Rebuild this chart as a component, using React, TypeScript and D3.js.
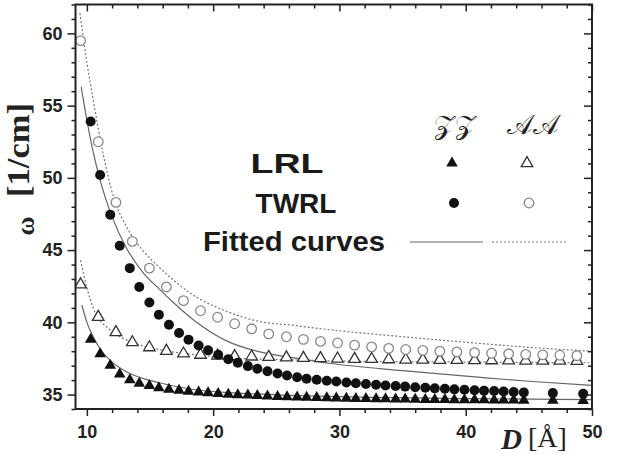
import React, { useEffect, useRef } from 'react';
import * as d3 from 'd3';

// ZZ ribbons: widths and frequencies
const zzD = [10.3, 11.05, 11.85, 12.6, 13.4, 14.15, 14.95, 15.7, 16.5, 17.3, 18.05, 18.85, 19.6, 20.4, 21.2, 21.95, 22.75, 23.5, 24.3, 25.1, 25.85, 26.65, 27.4, 28.2, 29.0, 29.75, 30.55, 31.3, 32.1, 32.9, 33.65, 34.45, 35.2, 36.0, 36.8, 37.55, 38.35, 39.1, 39.9, 40.7, 41.45, 42.25, 43.0, 43.8, 44.6, 46.9, 49.3];
const zzLRL = [38.9, 37.9, 37.1, 36.5, 36.1, 35.85, 35.7, 35.55, 35.45, 35.38, 35.3, 35.25, 35.2, 35.15, 35.1, 35.07, 35.04, 35.01, 34.98, 34.95, 34.93, 34.91, 34.89, 34.87, 34.85, 34.83, 34.82, 34.81, 34.8, 34.79, 34.78, 34.77, 34.76, 34.75, 34.74, 34.74, 34.73, 34.72, 34.72, 34.71, 34.71, 34.7, 34.7, 34.7, 34.69, 34.68, 34.67];
const zzTWRL = [53.9, 50.2, 47.45, 45.3, 43.75, 42.45, 41.37, 40.52, 39.83, 39.26, 38.8, 38.4, 38.06, 37.76, 37.45, 37.2, 36.97, 36.78, 36.61, 36.46, 36.32, 36.2, 36.1, 36.02, 35.95, 35.9, 35.84, 35.78, 35.73, 35.68, 35.63, 35.59, 35.55, 35.51, 35.47, 35.43, 35.4, 35.36, 35.33, 35.3, 35.27, 35.24, 35.21, 35.18, 35.15, 35.1, 35.05];

// AA ribbons
const aaD = [9.5, 10.9, 12.3, 13.6, 14.95, 16.3, 17.65, 19.0, 20.35, 21.7, 23.05, 24.4, 25.8, 27.15, 28.5, 29.85, 31.2, 32.55, 33.9, 35.25, 36.6, 37.95, 39.3, 40.7, 42.05, 43.4, 44.75, 46.1, 47.45, 48.8];
const aaLRL = [42.7, 40.45, 39.4, 38.7, 38.35, 38.1, 37.92, 37.83, 37.78, 37.74, 37.71, 37.68, 37.65, 37.62, 37.6, 37.57, 37.55, 37.54, 37.52, 37.5, 37.49, 37.48, 37.47, 37.46, 37.45, 37.44, 37.43, 37.42, 37.42, 37.41];
const aaTWRL = [59.5, 52.5, 48.3, 45.6, 43.75, 42.45, 41.5, 40.8, 40.35, 39.9, 39.55, 39.2, 39.0, 38.82, 38.68, 38.57, 38.42, 38.3, 38.2, 38.12, 38.06, 38.0, 37.95, 37.9, 37.86, 37.82, 37.78, 37.75, 37.72, 37.69];

// fitted curves
const fitZzTwrlD = [9.55, 10.0, 10.5, 11.0, 12.0, 13.1, 14.4, 15.8, 17.0, 18.4, 21.1, 23.7, 26.3, 29.3, 35.0, 41.0, 45.0, 50.0];
const fitZzTwrlW = [56.3, 54.0, 51.8, 50.0, 47.3, 45.2, 43.5, 42.25, 41.25, 40.2, 38.7, 37.95, 37.55, 37.15, 36.65, 36.2, 35.92, 35.64];
const fitZzLrlD = [9.6, 10.0, 10.5, 11.1, 11.8, 13.1, 14.5, 15.8, 18.4, 22.0, 26.0, 30.0, 40.0, 50.0];
const fitZzLrlW = [41.2, 40.0, 39.0, 38.1, 37.4, 36.6, 36.1, 35.8, 35.35, 35.1, 34.95, 34.85, 34.72, 34.65];
const fitAaTwrlD = [9.45, 10.0, 10.5, 11.3, 12.1, 13.15, 14.5, 15.8, 18.4, 21.1, 23.7, 26.3, 29.3, 34.8, 41.0, 45.0, 50.0];
const fitAaTwrlW = [61.4, 58.0, 55.4, 51.6, 48.7, 46.6, 44.9, 43.75, 41.9, 40.75, 40.05, 39.8, 39.48, 39.02, 38.55, 38.27, 38.0];
const fitAaLrlD = [9.5, 10.0, 10.5, 11.8, 13.1, 15.8, 18.4, 21.1, 26.3, 30.0, 40.0, 50.0];
const fitAaLrlW = [44.3, 42.4, 41.0, 39.5, 38.8, 38.1, 37.78, 37.55, 37.4, 37.32, 37.25, 37.2];

const xMajor = [10, 20, 30, 40, 50];
const xMinor = [12, 14, 16, 18, 22, 24, 26, 28, 32, 34, 36, 38, 42, 44, 46, 48];
const yMajor = [35, 40, 45, 50, 55, 60];
const yMinor = [34, 36, 37, 38, 39, 41, 42, 43, 44, 46, 47, 48, 49, 51, 52, 53, 54, 56, 57, 58, 59, 61, 62];

const W = 618, H = 455;
const margin = { top: 4.5, right: 26, bottom: 46, left: 75.5 };

const triPath = 'M0,-5.4L5.8,4.6L-5.8,4.6Z';
const sans = 'Liberation Sans, Arial, sans-serif';
const serif = 'Liberation Serif, Times New Roman, serif';

function App() {
  const ref = useRef(null);

  useEffect(() => {
    const svg = d3.select(ref.current);
    svg.selectAll('*').remove();

    const x = d3.scaleLinear().domain([9.1, 50]).range([margin.left, W - margin.right]);
    const y = d3.scaleLinear().domain([34, 62]).range([H - margin.bottom, margin.top]);
    const x0 = margin.left, x1 = W - margin.right, y0 = H - margin.bottom, y1 = margin.top;

    svg.append('clipPath').attr('id', 'plot-clip')
      .append('rect').attr('x', x0).attr('y', y1).attr('width', x1 - x0).attr('height', y0 - y1);

    // fitted curves
    const curves = [
      { d: fitZzTwrlD, w: fitZzTwrlW, dash: null },
      { d: fitZzLrlD, w: fitZzLrlW, dash: null },
      { d: fitAaTwrlD, w: fitAaTwrlW, dash: '2,2' },
      { d: fitAaLrlD, w: fitAaLrlW, dash: '2,2' },
    ];
    const cg = svg.append('g').attr('clip-path', 'url(#plot-clip)');
    curves.forEach(c => {
      const pts = c.d.map((d, i) => [x(d), y(c.w[i])] as [number, number]);
      cg.append('path')
        .attr('d', d3.line().curve(d3.curveMonotoneX)(pts))
        .attr('fill', 'none')
        .attr('stroke', c.dash ? '#777' : '#666')
        .attr('stroke-width', 1.2)
        .attr('stroke-dasharray', c.dash);
    });

    // markers
    const mg = svg.append('g').attr('clip-path', 'url(#plot-clip)');
    mg.selectAll('.aa-tri').data(aaD).join('path')
      .attr('transform', (d, i) => `translate(${x(d)},${y(aaLRL[i])})`)
      .attr('d', triPath).attr('fill', 'white').attr('stroke', '#333').attr('stroke-width', 1.3);
    mg.selectAll('.aa-circ').data(aaD).join('circle')
      .attr('cx', d => x(d)).attr('cy', (d, i) => y(aaTWRL[i])).attr('r', 4.8)
      .attr('fill', 'white').attr('stroke', '#888').attr('stroke-width', 1.3);
    mg.selectAll('.zz-circ').data(zzD).join('circle')
      .attr('cx', d => x(d)).attr('cy', (d, i) => y(zzTWRL[i])).attr('r', 5)
      .attr('fill', '#111');
    mg.selectAll('.zz-tri').data(zzD).join('path')
      .attr('transform', (d, i) => `translate(${x(d)},${y(zzLRL[i])})`)
      .attr('d', triPath).attr('fill', '#111');

    // axes
    const styleAxis = g => {
      g.select('.domain').remove();
      g.selectAll('line').attr('stroke', '#222').attr('stroke-width', 1.5);
      g.selectAll('text').attr('font-family', sans).attr('font-weight', 'bold')
        .attr('font-size', 18).attr('fill', '#222');
    };
    svg.append('g').attr('transform', `translate(0,${y0})`)
      .call(d3.axisBottom(x).tickValues(xMajor).tickSize(7).tickPadding(9).tickFormat(d3.format('d')))
      .call(styleAxis);
    svg.append('g').attr('transform', `translate(0,${y0})`)
      .call(d3.axisBottom(x).tickValues(xMinor).tickSize(4).tickFormat(() => ''))
      .call(styleAxis);
    svg.append('g').attr('transform', `translate(0,${y1})`)
      .call(d3.axisTop(x).tickValues(xMajor).tickSize(-7).tickFormat(() => ''))
      .call(styleAxis);
    svg.append('g').attr('transform', `translate(0,${y1})`)
      .call(d3.axisTop(x).tickValues(xMinor).tickSize(-4).tickFormat(() => ''))
      .call(styleAxis);
    svg.append('g').attr('transform', `translate(${x0},0)`)
      .call(d3.axisLeft(y).tickValues(yMajor).tickSize(8).tickPadding(5).tickFormat(d3.format('d')))
      .call(styleAxis);
    svg.append('g').attr('transform', `translate(${x0},0)`)
      .call(d3.axisLeft(y).tickValues(yMinor).tickSize(4).tickFormat(() => ''))
      .call(styleAxis);
    svg.append('g').attr('transform', `translate(${x1},0)`)
      .call(d3.axisRight(y).tickValues(yMajor).tickSize(-8).tickFormat(() => ''))
      .call(styleAxis);
    svg.append('g').attr('transform', `translate(${x1},0)`)
      .call(d3.axisRight(y).tickValues(yMinor).tickSize(-4).tickFormat(() => ''))
      .call(styleAxis);

    svg.append('rect').attr('x', x0).attr('y', y1).attr('width', x1 - x0).attr('height', y0 - y1)
      .attr('fill', 'none').attr('stroke', '#222').attr('stroke-width', 2);

    // axis titles
    svg.append('text').attr('transform', 'translate(34,226) rotate(-90)')
      .attr('text-anchor', 'middle').attr('font-family', serif).attr('font-weight', 'bold')
      .attr('font-size', 26).attr('fill', '#222').text('ω');
    svg.append('text').attr('transform', 'translate(29,150) rotate(-90)')
      .attr('text-anchor', 'middle').attr('font-family', serif).attr('font-weight', 'bold')
      .attr('font-size', 31).attr('fill', '#222')
      .attr('textLength', 94).attr('lengthAdjust', 'spacingAndGlyphs').text('[1/cm]');
    svg.append('text').attr('x', 501).attr('y', 449)
      .attr('font-family', serif).attr('font-weight', 'bold').attr('font-style', 'italic')
      .attr('font-size', 29).attr('fill', '#222').text('D');
    svg.append('text').attr('x', 528).attr('y', 447)
      .attr('font-family', serif).attr('font-size', 28).attr('fill', '#222').text('[Å]');

    // legend
    const lg = svg.append('g');
    lg.append('text').attr('x', 455).attr('y', 134).attr('text-anchor', 'middle')
      .attr('font-family', 'DejaVu Serif, serif')
      .attr('font-size', 27).attr('fill', '#222').text('\u{1D4B5}\u{1D4B5}');
    lg.append('text').attr('x', 533).attr('y', 134).attr('text-anchor', 'middle')
      .attr('font-family', 'DejaVu Serif, serif')
      .attr('font-size', 27).attr('fill', '#222').text('\u{1D49C}\u{1D49C}');
    const labels = [
      { t: 'LRL', x: 287, y: 173, len: 73 },
      { t: 'TWRL', x: 296, y: 213, len: null },
      { t: 'Fitted curves', x: 294, y: 251, len: 182 },
    ];
    labels.forEach(l => {
      const t = lg.append('text').attr('x', l.x).attr('y', l.y).attr('text-anchor', 'middle')
        .attr('font-family', sans).attr('font-weight', 'bold').attr('font-size', 28)
        .attr('fill', '#1a1a1a').text(l.t);
      if (l.len) t.attr('textLength', l.len).attr('lengthAdjust', 'spacingAndGlyphs');
    });
    lg.append('path').attr('transform', 'translate(452,162)').attr('d', triPath).attr('fill', '#111');
    lg.append('path').attr('transform', 'translate(527,162)').attr('d', triPath)
      .attr('fill', 'white').attr('stroke', '#333').attr('stroke-width', 1.3);
    lg.append('circle').attr('cx', 454).attr('cy', 203).attr('r', 5).attr('fill', '#111');
    lg.append('circle').attr('cx', 529).attr('cy', 203).attr('r', 4.8)
      .attr('fill', 'white').attr('stroke', '#888').attr('stroke-width', 1.3);
    lg.append('line').attr('x1', 410).attr('x2', 483).attr('y1', 242).attr('y2', 242)
      .attr('stroke', '#666').attr('stroke-width', 1.2);
    lg.append('line').attr('x1', 492).attr('x2', 566).attr('y1', 242).attr('y2', 242)
      .attr('stroke', '#777').attr('stroke-width', 1.2).attr('stroke-dasharray', '2,2');
  }, []);

  return (
    <svg ref={ref} width={W} height={H}
      style={{ position: 'absolute', left: 0, top: 0, background: 'white' }} />
  );
}

export default App;
